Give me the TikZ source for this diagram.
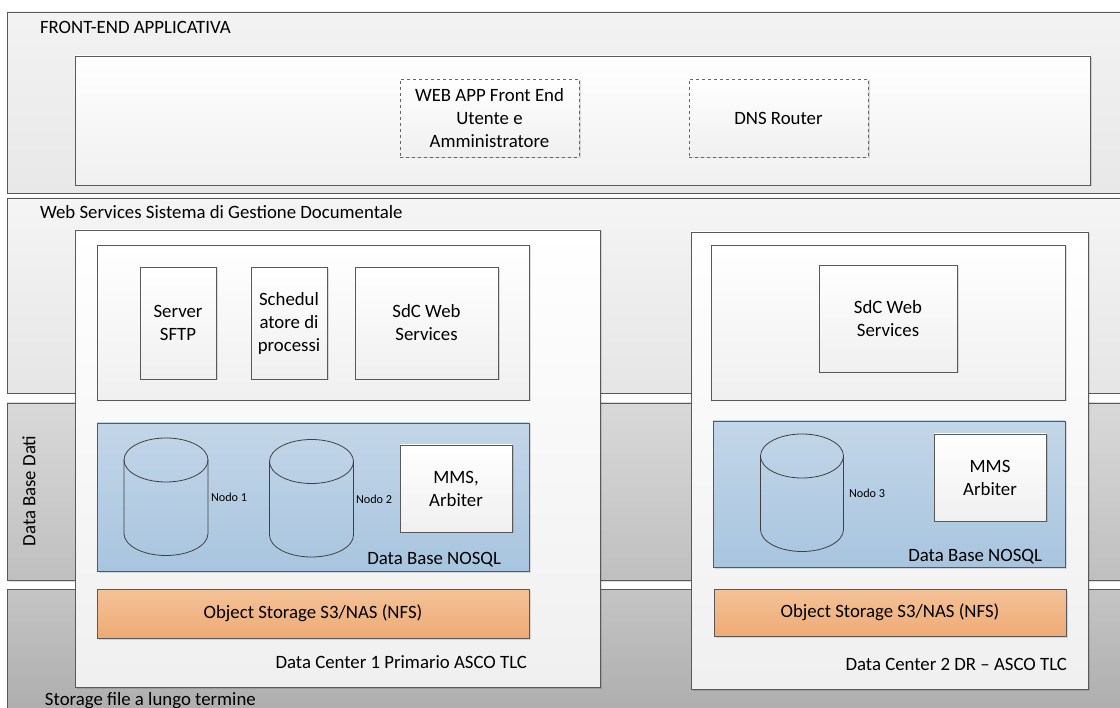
\documentclass[tikz,border=0pt]{standalone}
\usepackage{fontspec}
\setmainfont{Carlito}
\usetikzlibrary{shadows}
\tikzset{
  box/.style={draw=black!65, line width=0.9pt, rectangle, inner sep=2pt, outer sep=0pt, align=center,
    font=\fontsize{18.8}{23}\selectfont,
    copy shadow={shadow xshift=1.5pt, shadow yshift=-1.5pt, draw=none, fill=black, opacity=.12}},
  band/.style={box},
  panel/.style={box, top color=white, bottom color=black!6},
  dashbox/.style={panel, dashed, draw=black!60, line width=0.8pt},
  dbarea/.style={box, top color=blue1, bottom color=blue2},
  storage/.style={box, top color=orange1, bottom color=orange2},
  barrel/.style={draw=black!75, line width=0.8pt},
  caption/.style={inner sep=0pt, outer sep=0pt, font=\fontsize{18.8}{23}\selectfont},
  tiny/.style={inner sep=0pt, outer sep=0pt, font=\fontsize{12.2}{14}\selectfont},
}
\definecolor{blue1}{HTML}{C3D6E8}
\definecolor{blue2}{HTML}{A8C5DF}
\definecolor{orange1}{HTML}{F4C298}
\definecolor{orange2}{HTML}{EEAB75}
% name, centre x, top y, bottom y, x radius
\newcommand{\drawbarrel}[5]{
  \coordinate (#1) at (#2,#3/2+#4/2);
  \draw[barrel] (#2-#5,#3+22) -- (#2-#5,#4-22) arc[start angle=180, end angle=360, x radius=#5pt, y radius=22pt] -- (#2+#5,#3+22);
  \draw[barrel] (#2,#3+22) ellipse[x radius=#5pt, y radius=22pt];
}
\begin{document}
\begin{tikzpicture}[x=1pt,y=-1pt]

  % Fix the page
  \useasboundingbox (0,0) rectangle (1120,708);

  % Draw the four layers
  \node[band, top color=black!5, bottom color=black!9, minimum width=1123, minimum height=181] (front) at (568.5,102.5) {};
  \node[band, top color=black!4, bottom color=black!10, minimum width=1123, minimum height=195] (web) at (568.5,295.5) {};
  \node[band, top color=black!15, bottom color=black!25, minimum width=1123, minimum height=177] (dati) at (568.5,491.5) {};
  \node[band, top color=black!23, bottom color=black!33, minimum width=1123, minimum height=140] (file) at (568.5,659) {};

  % Add labels for the layers
  \node[caption, anchor=west] (frontlab) at (40,27) {FRONT-END APPLICATIVA};
  \node[caption, anchor=west] (weblab) at (40,212.5) {Web Services Sistema di Gestione Documentale};
  \node[caption, rotate=90] (datilab) at (29,491) {Data Base Dati};
  \node[caption, anchor=west] (filelab) at (45,701) {Storage file a lungo termine};

  % Front end
  \node[panel, minimum width=1015, minimum height=129] (frontin) at (582.5,120.5) {};
  \node[dashbox, minimum width=179, minimum height=78] (webapp) at (489.5,118) {WEB APP Front End\\Utente e\\Amministratore};
  \node[dashbox, minimum width=179, minimum height=78] (dns) at (778.5,118) {DNS Router};

  % Data center 1
  \node[panel, minimum width=525, minimum height=457] (dca) at (337.5,458.5) {};
  \node[panel, minimum width=432, minimum height=155] (appa) at (313,322.5) {};
  \node[panel, minimum width=76, minimum height=112] (sftp) at (178,323) {Server\\SFTP};
  \node[panel, minimum width=76, minimum height=112] (sched) at (289,323) {Schedul\\atore di\\processi};
  \node[panel, minimum width=143, minimum height=112] (sdca) at (426.5,323) {SdC Web\\Services};
  \node[dbarea, minimum width=432, minimum height=148] (dba) at (313,497) {};
  \drawbarrel{cyla}{166}{438}{555.5}{42}
  \node[tiny, anchor=west] (cylalab) at (211,497) {Nodo 1};
  \drawbarrel{cylb}{311.5}{439.5}{557}{42}
  \node[tiny, anchor=west] (cylblab) at (356,499) {Nodo 2};
  \node[panel, minimum width=112, minimum height=87] (mmsa) at (456,488.5) {MMS,\\Arbiter};
  \node[caption, anchor=east] (dbalab) at (501,559.5) {Data Base NOSQL};
  \node[storage, minimum width=432, minimum height=49] (obja) at (313,613.5) {Object Storage S3/NAS (NFS)};
  \node[caption, anchor=east] (dcalab) at (527,662.5) {Data Center 1 Primario ASCO TLC};

  % Data center 2
  \node[panel, minimum width=397, minimum height=457] (dcb) at (889.5,460.5) {};
  \node[panel, minimum width=354, minimum height=155] (appb) at (888,322.5) {};
  \node[panel, minimum width=138, minimum height=107] (sdcb) at (888,318.5) {SdC Web\\Services};
  \node[dbarea, minimum width=352, minimum height=146] (dbb) at (889,494) {};
  \drawbarrel{cylc}{802}{434}{551.5}{41.5}
  \node[tiny, anchor=west] (cylclab) at (849,493) {Nodo 3};
  \node[panel, minimum width=112, minimum height=87] (mmsb) at (990,477.5) {MMS\\Arbiter};
  \node[caption, anchor=east] (dbblab) at (1042,556.5) {Data Base NOSQL};
  \node[storage, minimum width=352, minimum height=47] (objb) at (890,612.5) {Object Storage S3/NAS (NFS)};
  \node[caption, anchor=east] (dcblab) at (1067,664.5) {Data Center 2 DR – ASCO TLC};

\end{tikzpicture}
\end{document}
